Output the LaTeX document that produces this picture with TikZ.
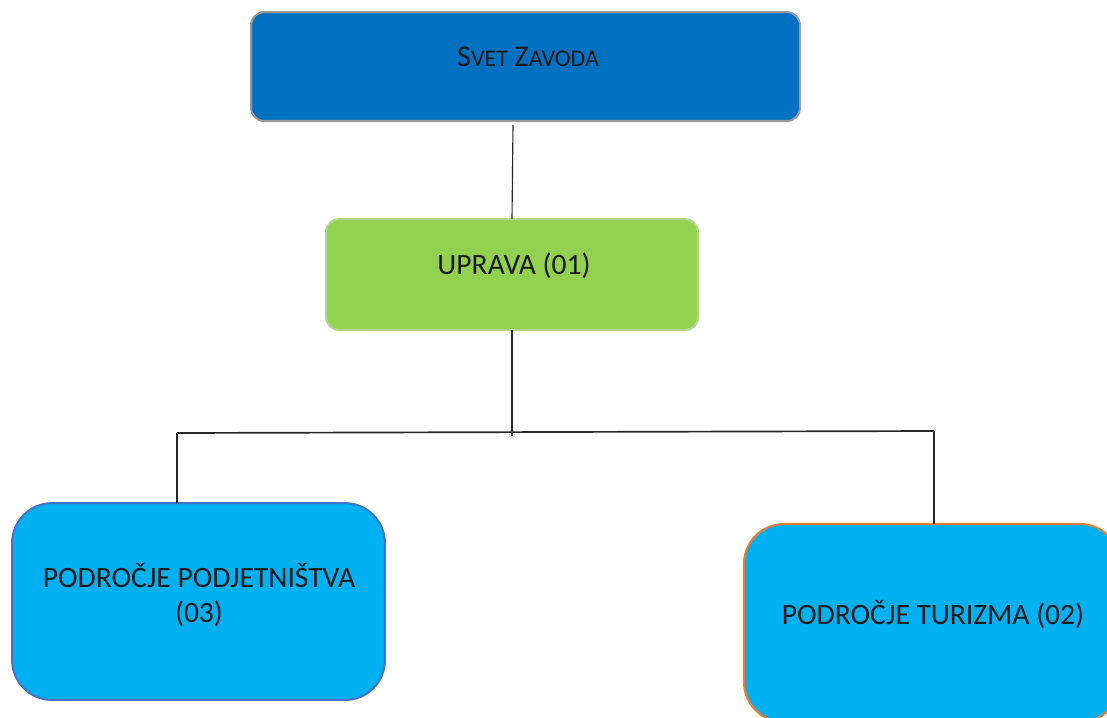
\documentclass[tikz,border=0pt]{standalone}
\usepackage{fontspec}
\setmainfont{Carlito}
\usetikzlibrary{shadows}

\definecolor{svetblue}{HTML}{0070C0}
\definecolor{upravagreen}{HTML}{92D050}
\definecolor{podrocjecyan}{HTML}{00B0F0}
\definecolor{podjborder}{HTML}{4472C4}
\definecolor{turborder}{HTML}{ED7D31}

\begin{document}
\begin{tikzpicture}
  [x=0.025cm,y=-0.025cm,
   every node/.style={inner sep=0pt,outer sep=0pt},
   box/.style={rectangle,line width=1.4pt,
     drop shadow={opacity=0.35,shadow xshift=0.6pt,shadow yshift=-0.9pt}},
   txt/.style={font=\fontsize{21}{25}\selectfont,align=center,text=black!90},
   wire/.style={line width=0.8pt,black!85}]
  \clip (0,0) rectangle (1107,718);

  \node[box,fill=svetblue,draw=black!40,rounded corners=0.33cm,
        minimum width=13.72cm,minimum height=2.72cm] (svet) at (525.5,66.5) {};
  \node[box,fill=upravagreen,draw=upravagreen!90!black!60!white,rounded corners=0.33cm,
        minimum width=9.3cm,minimum height=2.77cm] (uprava) at (512,274.5) {};
  \node[box,fill=podrocjecyan,draw=podjborder,rounded corners=1cm,
        minimum width=9.32cm,minimum height=4.92cm] (podj) at (198.5,601.5) {};
  \node[box,fill=podrocjecyan,draw=turborder,rounded corners=1cm,
        minimum width=9.4cm,minimum height=4.95cm] (tur) at (932,623) {};

  \node[txt] (svettxt) at (528,57)
    {{\fontsize{21.5}{25}\selectfont S}{\fontsize{17}{20}\selectfont VET} {\fontsize{21.5}{25}\selectfont Z}{\fontsize{17}{20}\selectfont AVODA}};
  \node[txt] (upravatxt) at (514,266) {UPRAVA (01)};
  \node[txt] (podjtxt) at (199,595) {PODROČJE PODJETNIŠTVA\\(03)};
  \node[txt] (turtxt) at (933,614) {PODROČJE TURIZMA (02)};

  \coordinate (hl) at (177,433);
  \coordinate (hr) at (934,431);
  \coordinate (mid) at (512,436);

  \draw[wire] (svet.south -| uprava.north) ++(1,4) -- (uprava.north);
  \draw[wire] (uprava.south) -- (mid);
  \draw[wire,line width=1.2pt] (hl) -- (hr);
  \draw[wire] (hl) -- (hl |- podj.north);
  \draw[wire] (hr) -- (hr |- tur.north);

\end{tikzpicture}
\end{document}
